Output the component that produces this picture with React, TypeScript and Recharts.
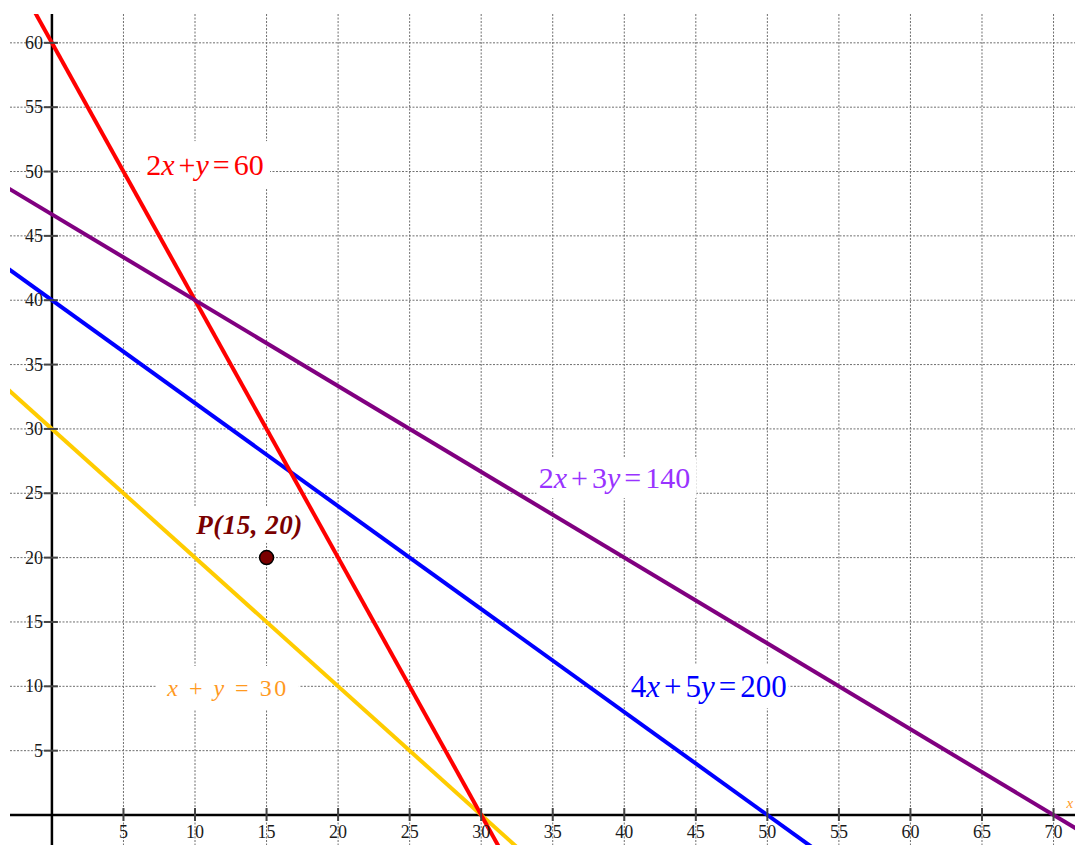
import {
  ComposedChart,
  XAxis,
  YAxis,
  CartesianGrid,
  ReferenceLine,
  ReferenceDot,
  Scatter,
} from "recharts";

// grid / tick values
const xTicks = [5, 10, 15, 20, 25, 30, 35, 40, 45, 50, 55, 60, 65, 70];
const yTicks = [5, 10, 15, 20, 25, 30, 35, 40, 45, 50, 55, 60];

// the four constraint lines, given by their intercepts
const lineNames = ["2x+y=60", "2x+3y=140", "4x+5y=200", "x+y=30"];
const xIntercepts = [30, 70, 50, 30];
const yIntercepts = [60, 46.67, 40, 30];

// the marked point
const pointP = [{ x: 15, y: 20 }];

const X_DOMAIN: [number, number] = [-2.93, 71.5];
const Y_DOMAIN: [number, number] = [-2.33, 62.24];

const FONT = "'Liberation Serif', 'Times New Roman', serif";

const lineColors: Record<string, string> = {
  "2x+y=60": "#ff0000",
  "2x+3y=140": "#800080",
  "4x+5y=200": "#0000ff",
  "x+y=30": "#ffcc00",
};

// label anchors (centre of text, data coords) and their white boxes
const labels = [
  { text: "2x+y=60", x: 10.7, y: 50.5, w: 130, h: 48, dx: 0, color: "#ff0000", size: 30, kind: "math" },
  { text: "2x+3y=140", x: 39.45, y: 26.18, w: 160, h: 40, dx: -2, color: "#9933ff", size: 30, kind: "math" },
  { text: "4x+5y=200", x: 45.9, y: 10.0, w: 160, h: 44, dx: 0, color: "#0000ff", size: 31, kind: "math" },
  { text: "x + y = 30", x: 12.3, y: 9.87, w: 142, h: 44, dx: 0, color: "#ff9a1f", size: 24, kind: "spaced" },
  { text: "P(15, 20)", x: 13.6, y: 22.55, w: 112, h: 36, dx: 3, color: "#7a0000", size: 27, kind: "bold" },
];

function segmentFor(i: number) {
  // two points on the line, beyond both intercepts; clipped to the plot
  const a = xIntercepts[i];
  const b = yIntercepts[i];
  return [
    { x: -0.3 * a, y: 1.3 * b },
    { x: 1.3 * a, y: -0.3 * b },
  ];
}

function mathParts(str: string) {
  return str.split("").map((ch, k) => {
    if (/[a-z]/.test(ch))
      return (
        <tspan key={k} fontStyle="italic">
          {ch}
        </tspan>
      );
    if (ch === "+" || ch === "=")
      return (
        <tspan key={k} dx={4}>
          {ch}
        </tspan>
      );
    const prev = str[k - 1];
    return (
      <tspan key={k} dx={prev === "+" || prev === "=" ? 4 : 0}>
        {ch}
      </tspan>
    );
  });
}

function LabelShape(props: any, lb: (typeof labels)[number]) {
  const { cx, cy } = props;
  if (cx == null || cy == null) return <g />;
  let content: any = lb.text;
  if (lb.kind === "math") content = mathParts(lb.text);
  if (lb.kind === "spaced")
    content = lb.text.split("").map((ch, k) => (
      <tspan key={k} fontStyle={/[a-z]/.test(ch) ? "italic" : "normal"}>
        {ch}
      </tspan>
    ));
  return (
    <g>
      <rect x={cx - lb.w / 2} y={cy - lb.h / 2} width={lb.w} height={lb.h} fill="#ffffff" />
      <text
        x={cx + lb.dx}
        y={cy + lb.size * 0.33}
        textAnchor="middle"
        fill={lb.color}
        fontFamily={FONT}
        fontSize={lb.size}
        fontWeight={lb.kind === "bold" ? "bold" : "normal"}
        fontStyle={lb.kind === "bold" ? "italic" : "normal"}
        letterSpacing={lb.kind === "spaced" ? 2.5 : lb.kind === "bold" ? 0.5 : 0}
        style={{ whiteSpace: "pre" }}
      >
        {content}
      </text>
    </g>
  );
}

export default function App() {
  return (
    <div style={{ position: "absolute", left: 0, top: 0, background: "#fff" }}>
      <ComposedChart
        width={1075}
        height={845}
        margin={{ top: 14, right: 0, bottom: 0, left: 10 }}
      >
        <XAxis type="number" dataKey="x" domain={X_DOMAIN} allowDataOverflow hide />
        <YAxis type="number" dataKey="y" domain={Y_DOMAIN} allowDataOverflow hide />
        <CartesianGrid
          verticalValues={xTicks}
          horizontalValues={yTicks}
          stroke="#6f6f6f"
          strokeDasharray="2 1.5"
          strokeWidth={1}
        />

        {/* axes */}
        <ReferenceLine x={0} stroke="#000" strokeWidth={2.5} ifOverflow="hidden" />
        <ReferenceLine y={0} stroke="#000" strokeWidth={2.5} ifOverflow="hidden" />

        {xTicks.map((v) => (
          <ReferenceDot
            key={`xt${v}`}
            x={v}
            y={0}
            r={0}
            shape={(p: any) => (
              <g>
                <line x1={p.cx} y1={p.cy - 7} x2={p.cx} y2={p.cy + 6} stroke="#444" strokeWidth={2} />
                <text
                  x={p.cx}
                  y={p.cy + 23}
                  textAnchor="middle"
                  fontFamily={FONT}
                  fontSize={18}
                  fill="#1a1a1a"
                >
                  {v}
                </text>
              </g>
            )}
          />
        ))}
        {yTicks.map((v) => (
          <ReferenceDot
            key={`yt${v}`}
            x={0}
            y={v}
            r={0}
            shape={(p: any) => (
              <g>
                <line x1={p.cx - 8} y1={p.cy} x2={p.cx + 6} y2={p.cy} stroke="#444" strokeWidth={2} />
                <text
                  x={p.cx - 9}
                  y={p.cy + 6}
                  textAnchor="end"
                  fontFamily={FONT}
                  fontSize={18}
                  fill="#1a1a1a"
                >
                  {v}
                </text>
              </g>
            )}
          />
        ))}

        {labels.map((lb) => (
          <ReferenceDot
            key={lb.text}
            x={lb.x}
            y={lb.y}
            r={0}
            shape={(p: any) => LabelShape(p, lb)}
          />
        ))}

        {/* constraint lines */}
        {[3, 2, 0, 1].map((i) => (
          <ReferenceLine
            key={lineNames[i]}
            segment={segmentFor(i)}
            stroke={lineColors[lineNames[i]]}
            strokeWidth={4}
            ifOverflow="hidden"
          />
        ))}

        <Scatter
          data={pointP}
          isAnimationActive={false}
          shape={(p: any) => (
            <circle cx={p.cx} cy={p.cy} r={7} fill="#7a0000" stroke="#000" strokeWidth={1.5} />
          )}
        />

        {/* axis name at the right edge */}
        <ReferenceDot
          x={70.9}
          y={0.9}
          r={0}
          shape={(p: any) => (
            <text x={p.cx} y={p.cy + 5} fontFamily={FONT} fontStyle="italic" fontSize={15} fill="#ff9a1f">
              x
            </text>
          )}
        />
      </ComposedChart>
    </div>
  );
}
